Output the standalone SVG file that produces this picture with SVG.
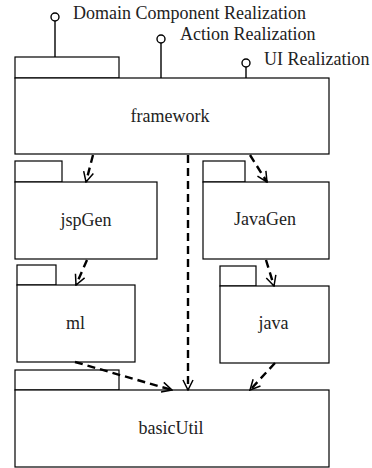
<svg xmlns="http://www.w3.org/2000/svg" width="372" height="468" viewBox="0 0 372 468">
  <defs>
    <marker id="open" viewBox="0 0 12 12" refX="11" refY="6" markerWidth="12" markerHeight="12" markerUnits="userSpaceOnUse" orient="auto">
      <path d="M1,1 L11,6 L1,11" fill="none" stroke="#000" stroke-width="1.5"/>
    </marker>
    <style>
      .box { fill: #fff; stroke: #000; stroke-width: 1.2; }
      .label { font-family: "Liberation Serif", "Times New Roman", serif; font-size: 18px; fill: #222; }
      .mid { text-anchor: middle; }
      .stem { stroke: #000; stroke-width: 1.4; fill: none; }
      .ball { fill: #fff; stroke: #000; stroke-width: 1.4; }
      .dep { stroke: #000; stroke-width: 2.4; stroke-dasharray: 8 5; fill: none; marker-end: url(#open); }
    </style>
  </defs>

  <!-- interfaces on the framework package -->
  <g id="iface-domain">
    <line class="stem" x1="55" y1="21" x2="55" y2="78"/>
    <circle class="ball" cx="55" cy="17" r="4"/>
    <text class="label" x="73" y="19">Domain Component Realization</text>
  </g>
  <g id="iface-action">
    <line class="stem" x1="161" y1="43" x2="161" y2="78"/>
    <circle class="ball" cx="161" cy="39" r="4"/>
    <text class="label" x="180" y="40">Action Realization</text>
  </g>
  <g id="iface-ui">
    <line class="stem" x1="246" y1="67" x2="246" y2="78"/>
    <circle class="ball" cx="246" cy="63" r="4"/>
    <text class="label" x="264" y="65">UI Realization</text>
  </g>

  <g id="framework">
    <rect class="box" x="15" y="57" width="104" height="21"/>
    <rect class="box" x="15" y="78" width="314" height="76"/>
    <text class="label mid" x="170" y="122">framework</text>
  </g>

  <g id="jspGen">
    <rect class="box" x="15" y="161" width="47" height="21"/>
    <rect class="box" x="15" y="182" width="142" height="77"/>
    <text class="label mid" x="86" y="226">jspGen</text>
  </g>

  <g id="JavaGen">
    <rect class="box" x="203" y="161" width="42" height="21"/>
    <rect class="box" x="203" y="182" width="126" height="77"/>
    <text class="label mid" x="265" y="225">JavaGen</text>
  </g>

  <g id="ml">
    <rect class="box" x="17" y="265" width="39" height="20"/>
    <rect class="box" x="17" y="285" width="118" height="77"/>
    <text class="label mid" x="75.5" y="329">ml</text>
  </g>

  <g id="java">
    <rect class="box" x="220" y="266" width="36" height="20"/>
    <rect class="box" x="220" y="286" width="109" height="77"/>
    <text class="label mid" x="273.5" y="329">java</text>
  </g>

  <g id="basicUtil">
    <rect class="box" x="15" y="370" width="104" height="20"/>
    <rect class="box" x="15" y="390" width="314" height="77"/>
    <text class="label mid" x="171" y="434">basicUtil</text>
  </g>

  <!-- dependencies -->
  <g id="connectors">
    <line class="dep" x1="93" y1="155" x2="86" y2="182"/>
    <line class="dep" x1="250" y1="155" x2="267" y2="182"/>
    <line class="dep" x1="188" y1="155" x2="188" y2="390"/>
    <line class="dep" x1="87" y1="260" x2="76" y2="285"/>
    <line class="dep" x1="266" y1="260" x2="274" y2="286"/>
    <line class="dep" x1="75" y1="362" x2="172" y2="390"/>
    <line class="dep" x1="275" y1="363" x2="250" y2="390"/>
  </g>
</svg>
